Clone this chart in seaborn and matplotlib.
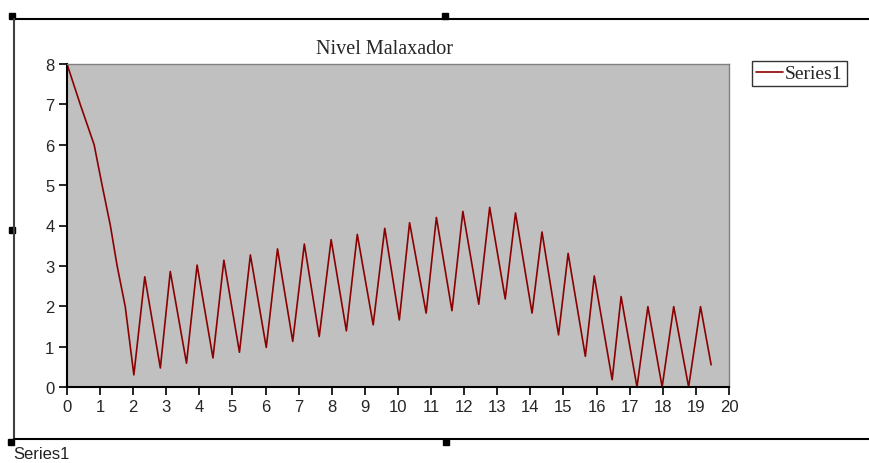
import matplotlib
matplotlib.use("Agg")
import matplotlib.pyplot as plt
from matplotlib.lines import Line2D
from matplotlib.patches import Rectangle
import seaborn as sns
import pandas as pd

# values (peaks / troughs of the level signal)
time_x = [0, 0.4, 0.82, 1.06, 1.31, 1.51, 1.76, 2.02, 2.35, 2.82, 3.12, 3.61,
          3.93, 4.41, 4.74, 5.21, 5.54, 6.02, 6.36, 6.82, 7.17, 7.62, 7.98,
          8.44, 8.77, 9.25, 9.60, 10.04, 10.35, 10.85, 11.16, 11.63, 11.96,
          12.44, 12.77, 13.24, 13.55, 14.05, 14.35, 14.85, 15.14, 15.66,
          15.93, 16.47, 16.74, 17.22, 17.55, 17.98, 18.33, 18.78, 19.14, 19.46]
level_y = [8, 7, 6, 5.0, 4.0, 3.02, 1.99, 0.30, 2.73, 0.47, 2.86, 0.59,
           3.02, 0.72, 3.14, 0.86, 3.27, 0.98, 3.42, 1.13, 3.54, 1.25, 3.65,
           1.39, 3.78, 1.54, 3.93, 1.66, 4.07, 1.83, 4.20, 1.89, 4.35,
           2.05, 4.45, 2.18, 4.31, 1.83, 3.84, 1.29, 3.31, 0.76,
           2.75, 0.18, 2.24, 0.0, 1.99, 0.0, 1.99, 0.0, 1.99, 0.55]
x_ticks = list(range(0, 21))
y_ticks = list(range(0, 9))
series_name = "Series1"
title = "Nivel Malaxador"

df = pd.DataFrame({"x": time_x, "y": level_y})

sns.set_style("white")
tick_font = ["Liberation Sans Narrow", "Liberation Sans", "DejaVu Sans"]
serif_font = ["Liberation Serif", "DejaVu Serif"]

W, H = 870, 464
fig = plt.figure(figsize=(W / 100, H / 100), dpi=100)
fig.patch.set_facecolor("white")
ax = fig.add_axes([67 / W, 1 - 388 / H, (729 - 67) / W, (388 - 65) / H])
ax.set_facecolor("#c0c0c0")

sns.lineplot(data=df, x="x", y="y", ax=ax, color="#8b0000", linewidth=1.2,
             label=series_name, sort=False, clip_on=False)

ax.set_xlim(0, 20)
ax.set_ylim(0, 8)
ax.set_xticks(x_ticks)
ax.set_yticks(y_ticks)
ax.set_xlabel("")
ax.set_ylabel("")
ax.tick_params(axis="both", direction="out", length=6, width=1.2,
               color="black", labelsize=12, pad=3, left=True, bottom=True)
for lab in ax.get_xticklabels() + ax.get_yticklabels():
    lab.set_family(tick_font)

for side in ["left", "bottom"]:
    ax.spines[side].set_color("black")
    ax.spines[side].set_linewidth(1.5)
for side in ["top", "right"]:
    ax.spines[side].set_color("#808080")
    ax.spines[side].set_linewidth(1.0)

ax.set_title(title, family=serif_font, fontsize=14.5, pad=8,
             x=(385 - 67) / (729 - 67))

leg = ax.legend(loc="upper left", bbox_to_anchor=(752 / W, 1 - 62 / H),
                bbox_transform=fig.transFigure, frameon=True, fancybox=False,
                prop={"family": serif_font, "size": 14}, handlelength=1.4,
                handletextpad=0.1, borderpad=0.2, borderaxespad=0)
leg.get_frame().set_edgecolor("black")
leg.get_frame().set_linewidth(1.0)

# surrounding chart-object frame with selection handles
def fx(px):
    return px / W

def fy(py):
    return 1 - py / H

fig.add_artist(Line2D([fx(14), 1], [fy(20), fy(20)], color="black", lw=1.5))
fig.add_artist(Line2D([fx(14), fx(14)], [fy(20), fy(440)], color="#404040", lw=1.5))
fig.add_artist(Line2D([fx(14), 1], [fy(440), fy(440)], color="black", lw=1.5))
for hx, hy in [(9, 14), (442, 14), (9, 228), (8, 440), (443, 440)]:
    fig.add_artist(Rectangle((fx(hx), fy(hy + 6)), 6 / W, 6 / H,
                             color="black", transform=fig.transFigure))

fig.text(fx(13), fy(455), series_name, fontsize=12, va="center", ha="left",
         family=["Liberation Sans", "DejaVu Sans"], color="#222222")

fig.savefig("out.png", dpi=100)
